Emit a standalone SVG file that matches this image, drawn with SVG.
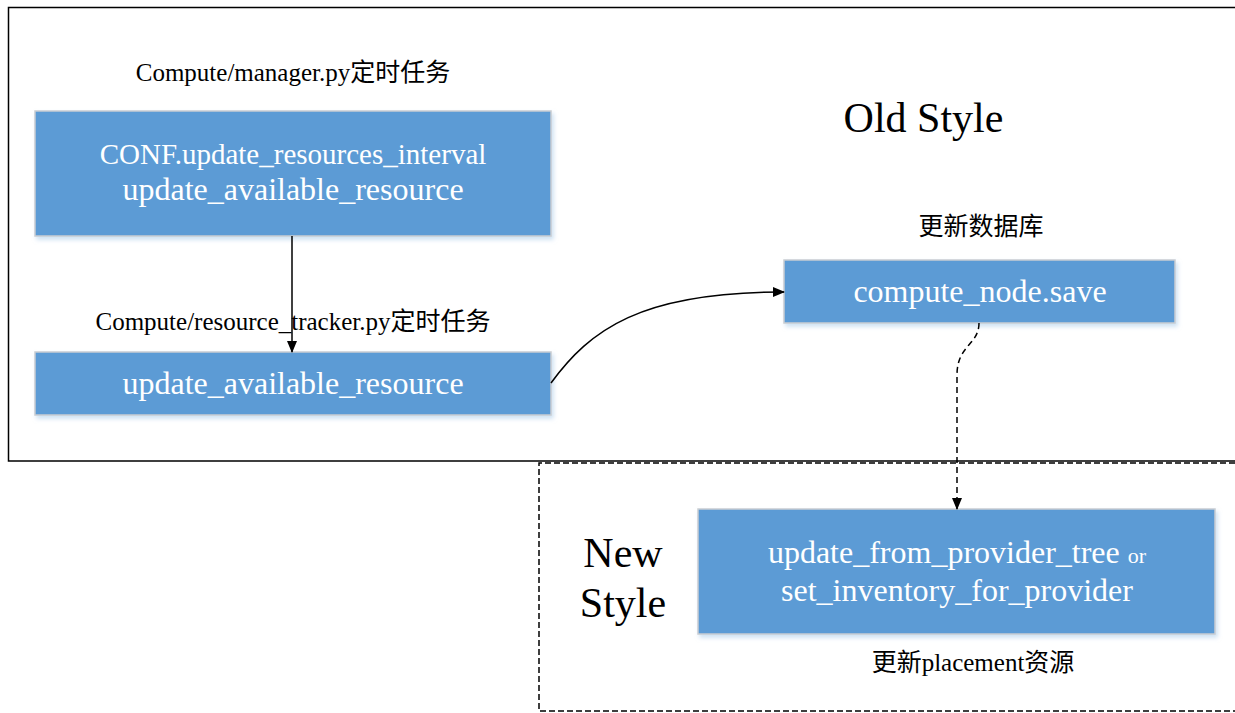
<svg xmlns="http://www.w3.org/2000/svg" width="1235" height="713" viewBox="0 0 1235 713">
<style>
.box{fill:#5B9BD5;stroke:#C9CDD2;stroke-width:1.5}
.bt{font-family:"Liberation Serif","Times New Roman",serif;fill:#FFFFFF;text-anchor:middle}
.lbl{font-family:"Liberation Serif","Noto Sans CJK SC",serif;fill:#000000;text-anchor:middle;font-size:25px}
.big{font-family:"Liberation Serif","Times New Roman",serif;fill:#000000;text-anchor:middle;font-size:42px}
.con{fill:none;stroke:#000000;stroke-width:1.5}
</style>
<defs>
<marker id="arr" markerWidth="12" markerHeight="10" refX="11" refY="5" orient="auto" markerUnits="userSpaceOnUse">
<path d="M0,0 L12,5 L0,10 Z" fill="#000000"/>
</marker>
<filter id="sh" x="-5%" y="-10%" width="112%" height="130%">
<feDropShadow dx="2" dy="3" stdDeviation="2" flood-color="#9DC3E6" flood-opacity="0.5"/>
</filter>
</defs>
<rect width="1235" height="713" fill="#FFFFFF"/>
<g id="frames">
<path d="M1235,7.5 L8.5,7.5 L8.5,461 L1235,461" fill="none" stroke="#000000" stroke-width="1.5"/>
<path d="M1235,463 L539,463 L539,711 L1235,711" fill="none" stroke="#000000" stroke-width="1.5" stroke-dasharray="6,3"/>
</g>
<g id="labels">
<text class="big" x="923.5" y="132">Old Style</text>
<text class="big" x="623" y="567">New</text>
<text class="big" x="623" y="617">Style</text>
<text class="lbl" x="293" y="81">Compute/manager.py定时任务</text>
<text class="lbl" x="293" y="330">Compute/resource_tracker.py定时任务</text>
<text class="lbl" x="981" y="235">更新数据库</text>
<text class="lbl" x="973" y="671">更新placement资源</text>
</g>
<g id="node-manager">
<rect class="box" x="35" y="111" width="516" height="125" filter="url(#sh)"/>
<text class="bt" x="293" y="164" font-size="29">CONF.update_resources_interval</text>
<text class="bt" x="293" y="200" font-size="32">update_available_resource</text>
</g>
<g id="node-tracker">
<rect class="box" x="35" y="352" width="516" height="63" filter="url(#sh)"/>
<text class="bt" x="293" y="394" font-size="32">update_available_resource</text>
</g>
<g id="node-save">
<rect class="box" x="784" y="260" width="391" height="63" filter="url(#sh)"/>
<text class="bt" x="980" y="302" font-size="32">compute_node.save</text>
</g>
<g id="node-placement">
<rect class="box" x="698" y="509" width="517" height="125" filter="url(#sh)"/>
<text class="bt" x="957" y="563" font-size="32">update_from_provider_tree <tspan font-size="22">or</tspan></text>
<text class="bt" x="957" y="601" font-size="32">set_inventory_for_provider</text>
</g>
<g id="connectors">
<path class="con" d="M292,236 L292,352" marker-end="url(#arr)"/>
<path class="con" d="M551,383 C590,330 640,292 784,292" marker-end="url(#arr)"/>
<path class="con" d="M979,323 C979,345 957,345 957,375 L957,509" stroke-dasharray="6,4" marker-end="url(#arr)"/>
</g>
</svg>
